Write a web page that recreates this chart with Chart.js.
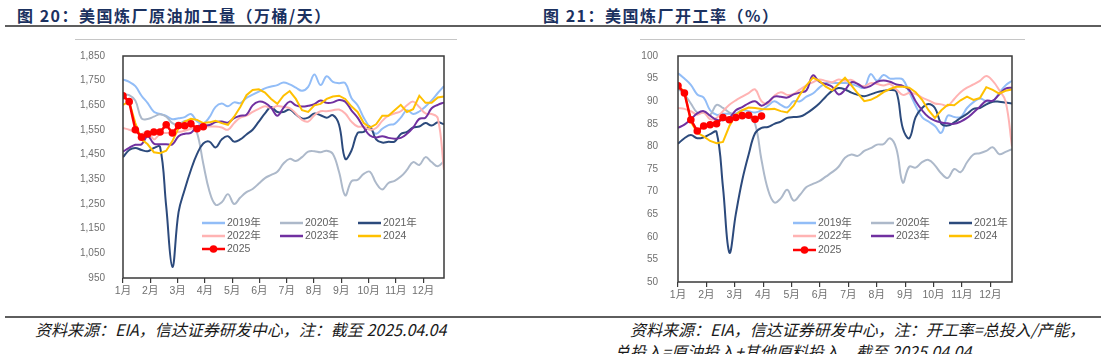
<!DOCTYPE html>
<html lang="zh">
<head>
    <meta charset="UTF-8">
    <title>美国炼厂原油加工量 / 开工率</title>
    <script src="https://cdn.jsdelivr.net/npm/chart.js"></script>
    <style>
        body {
            margin: 0;
            padding: 0;
            background: #ffffff;
        }

        .page {
            position: relative;
            width: 1108px;
            height: 354px;
            overflow: hidden;
            font-family: "Liberation Sans", "Noto Sans CJK SC", sans-serif;
        }

        .title {
            position: absolute;
            top: 3px;
            font-family: "Noto Sans CJK SC", sans-serif;
            font-size: 16px;
            font-weight: bold;
            letter-spacing: 1.5px;
            color: #1b3160;
            white-space: nowrap;
        }

        .rule {
            position: absolute;
            left: 5px;
            width: 1096px;
            height: 2px;
            background: #5e5e5e;
        }

        .frame-top {
            position: absolute;
            top: 39px;
            height: 1px;
            background: #c6c6c6;
        }

        .note {
            position: absolute;
            font-family: "Noto Sans CJK SC", sans-serif;
            font-style: italic;
            font-size: 16px;
            color: #1a1a1a;
            white-space: nowrap;
        }

        canvas {
            position: absolute;
        }
    </style>
</head>
<body>
<div class="page">
    <div class="title" style="left:17px;">图 20：美国炼厂原油加工量（万桶/天）</div>
    <div class="title" style="left:543px;">图 21：美国炼厂开工率（%）</div>
    <div class="rule" style="top:25px;"></div>

    <div class="frame-top" style="left:75px; width:382px;"></div>
    <div class="frame-top" style="left:640px; width:385px;"></div>

    <canvas id="runsChart" width="380" height="265" style="left:70px; top:40px;"></canvas>
    <canvas id="utilChart" width="390" height="270" style="left:630px; top:38px;"></canvas>

    <div class="rule" style="top:316px;"></div>
    <div class="note" style="left:35px; top:317px;">资料来源：EIA，信达证券研发中心，注：截至 2025.04.04</div>
    <div class="note" style="left:630px; top:317px;">资料来源：EIA，信达证券研发中心，注：开工率=总投入/产能，</div>
    <div class="note" style="left:614px; top:339px;">总投入=原油投入+其他原料投入，截至 2025.04.04</div>
</div>

<script>
    // month labels on the x axis (weekly data, week 0..52)
    const months = ['1月', '2月', '3月', '4月', '5月', '6月', '7月', '8月', '9月', '10月', '11月', '12月'];
    const years = ['2019年', '2020年', '2021年', '2022年', '2023年', '2024', '2025'];

    // 美国炼厂原油加工量 (万桶/天), weekly
    const runs2019 = [1755, 1745, 1728, 1689, 1659, 1624, 1615, 1607, 1594, 1598, 1602, 1615, 1585, 1576, 1602, 1644, 1657, 1646, 1662, 1659, 1680, 1693, 1706, 1719, 1726, 1732, 1743, 1735, 1722, 1709, 1725, 1775, 1732, 1768, 1745, 1740, 1740, 1680, 1650, 1600, 1560, 1535, 1555, 1570, 1575, 1600, 1630, 1615, 1625, 1645, 1670, 1700, 1728];
    const runs2020 = [1695, 1691, 1669, 1597, 1595, 1604, 1614, 1604, 1578, 1571, 1587, 1578, 1538, 1414, 1302, 1247, 1257, 1290, 1250, 1276, 1298, 1311, 1333, 1355, 1368, 1381, 1414, 1433, 1424, 1440, 1462, 1464, 1460, 1466, 1453, 1380, 1285, 1342, 1348, 1372, 1381, 1335, 1309, 1335, 1344, 1361, 1388, 1420, 1408, 1440, 1420, 1403, 1424];
    const runs2021 = [1440, 1469, 1477, 1469, 1464, 1477, 1482, 1240, 995, 1217, 1309, 1388, 1453, 1495, 1503, 1479, 1512, 1525, 1503, 1512, 1532, 1551, 1584, 1617, 1643, 1623, 1623, 1633, 1613, 1597, 1600, 1617, 1610, 1600, 1610, 1571, 1433, 1466, 1538, 1542, 1564, 1512, 1499, 1502, 1503, 1534, 1542, 1560, 1564, 1578, 1568, 1581, 1573];
    const runs2022 = [1558, 1551, 1542, 1534, 1545, 1512, 1534, 1538, 1540, 1542, 1547, 1555, 1560, 1564, 1564, 1564, 1560, 1551, 1578, 1600, 1608, 1623, 1636, 1646, 1639, 1647, 1643, 1639, 1617, 1591, 1584, 1610, 1626, 1626, 1630, 1633, 1617, 1584, 1564, 1564, 1551, 1558, 1587, 1608, 1617, 1626, 1650, 1665, 1643, 1617, 1615, 1598, 1388];
    const runs2023 = [1462, 1478, 1490, 1492, 1525, 1495, 1492, 1492, 1492, 1525, 1535, 1538, 1565, 1568, 1570, 1582, 1584, 1580, 1598, 1608, 1612, 1650, 1665, 1660, 1640, 1608, 1640, 1665, 1650, 1645, 1648, 1655, 1670, 1660, 1662, 1672, 1665, 1630, 1600, 1560, 1528, 1520, 1525, 1518, 1515, 1518, 1535, 1560, 1595, 1600, 1638, 1652, 1662];
    const runs2024 = [1652, 1665, 1578, 1512, 1492, 1460, 1456, 1466, 1505, 1558, 1584, 1595, 1591, 1578, 1581, 1587, 1578, 1571, 1604, 1643, 1691, 1712, 1715, 1702, 1676, 1656, 1689, 1708, 1676, 1630, 1623, 1650, 1656, 1676, 1686, 1689, 1676, 1646, 1623, 1578, 1560, 1573, 1608, 1608, 1630, 1652, 1623, 1634, 1689, 1660, 1660, 1682, 1686];
    const runs2025 = [1689, 1665, 1551, 1521, 1534, 1542, 1542, 1571, 1538, 1568, 1567, 1575, 1555, 1563];

    // 美国炼厂开工率 (%), weekly
    const util2019 = [96.2, 95.0, 93.6, 91.5, 90.8, 88.0, 87.0, 87.2, 87.2, 87.3, 88.0, 87.8, 87.5, 88.0, 89.0, 90.0, 89.2, 88.6, 90.0, 90.0, 91.0, 91.7, 93.0, 94.0, 94.1, 94.0, 94.0, 93.8, 93.3, 93.0, 96.0, 94.5, 95.8, 95.0, 95.0, 94.8, 92.0, 89.0, 86.5, 85.5, 84.5, 83.0, 86.8, 86.5, 86.5, 88.5, 89.8, 90.6, 90.0, 90.0, 91.8, 93.5, 94.5];
    const util2020 = [92.8, 91.5, 89.5, 87.5, 87.5, 87.0, 89.2, 88.5, 87.5, 86.8, 86.6, 86.5, 85.0, 77.0, 70.5, 67.6, 68.5, 70.4, 68.0, 69.3, 71.0, 71.7, 72.3, 73.3, 74.3, 75.5, 77.5, 78.2, 77.9, 79.0, 79.6, 80.4, 80.5, 81.8, 79.5, 72.0, 75.5, 75.3, 76.5, 77.0, 75.8, 74.0, 73.0, 75.0, 74.3, 76.5, 78.2, 78.5, 79.0, 79.8, 78.3, 78.8, 79.4];
    const util2021 = [80.6, 81.8, 82.5, 81.8, 82.0, 82.7, 83.2, 71.0, 56.5, 65.0, 72.5, 78.2, 82.9, 84.1, 84.3, 85.0, 85.5, 86.3, 86.5, 86.6, 87.3, 88.3, 89.5, 91.0, 92.3, 92.9, 92.6, 91.9, 91.4, 91.1, 91.5, 92.0, 92.3, 92.5, 92.1, 84.0, 81.8, 86.5, 88.5, 89.4, 88.5, 85.0, 84.6, 85.3, 86.3, 87.2, 88.3, 88.5, 89.3, 89.9, 89.9, 89.7, 89.5];
    const util2022 = [88.5, 88.3, 87.8, 87.0, 87.5, 86.0, 86.3, 87.8, 89.2, 90.2, 91.0, 91.8, 92.6, 90.0, 89.5, 91.2, 92.0, 91.4, 91.6, 92.6, 93.5, 94.2, 94.8, 94.5, 94.2, 94.8, 94.5, 94.7, 93.8, 93.3, 94.0, 93.8, 93.5, 93.8, 92.6, 91.4, 91.8, 91.6, 90.8, 90.2, 89.5, 89.3, 89.0, 90.5, 92.0, 93.0, 93.7, 94.5, 95.6, 94.5, 92.5, 90.0, 80.0];
    const util2023 = [84.1, 84.8, 86.0, 87.3, 87.8, 86.8, 85.9, 85.8, 86.3, 88.0, 88.7, 89.5, 90.0, 89.0, 89.8, 91.0, 91.0, 90.8, 91.5, 91.9, 92.4, 95.7, 94.3, 93.8, 93.2, 91.5, 92.5, 94.2, 93.8, 93.0, 93.4, 94.3, 94.6, 94.3, 93.7, 93.4, 92.5, 90.0, 88.0, 86.5, 85.7, 85.3, 85.1, 85.0, 85.5, 86.3, 87.5, 88.8, 90.1, 90.1, 91.5, 92.8, 93.0];
    const util2024 = [93.1, 92.3, 85.5, 83.0, 82.2, 81.2, 80.7, 81.0, 84.5, 87.0, 88.0, 88.6, 88.5, 88.3, 88.2, 88.3, 87.8, 87.5, 89.0, 91.5, 93.5, 95.2, 94.5, 93.2, 92.4, 93.8, 95.2, 93.5, 91.7, 90.0, 90.3, 91.0, 92.0, 92.7, 93.2, 93.2, 93.0, 92.0, 90.3, 88.0, 86.3, 88.0, 89.2, 89.1, 90.2, 91.0, 90.3, 90.7, 93.1, 92.5, 91.7, 92.3, 92.6];
    const util2025 = [93.4, 91.8, 85.9, 83.4, 84.5, 84.8, 85.0, 86.4, 85.9, 86.4, 86.8, 86.9, 86.0, 86.7];

    const colors = ['#92bdf7', '#adb9ca', '#2c4a7c', '#ffb3b3', '#7030a0', '#ffc000', '#ff0000'];
    const smooth = [0.4, 0.4, 0.4, 0.4, 0.4, 0, 0];
    const MONTH_STEP = 4.42; // weeks between month ticks

    const tickColor = '#6f6f6f';
    const fontFamily = '"Liberation Sans", "Noto Sans CJK SC", sans-serif';

    // outline round the plot area
    const plotFrame = {
        id: 'plotFrame',
        afterDatasetsDraw(chart) {
            const { ctx, chartArea: a } = chart;
            ctx.save();
            ctx.strokeStyle = '#3a3a3a';
            ctx.lineWidth = 1.5;
            ctx.strokeRect(a.left, a.top, a.right - a.left, a.bottom - a.top);
            ctx.restore();
        }
    };

    // three-column legend sitting inside the plot
    const innerLegend = {
        id: 'innerLegend',
        afterDraw(chart, args, opts) {
            const ctx = chart.ctx;
            ctx.save();
            ctx.font = '10.5px ' + fontFamily;
            ctx.textBaseline = 'middle';
            ctx.textAlign = 'left';
            chart.data.datasets.forEach((ds, i) => {
                const x = opts.x[i % 3];
                const y = opts.y[Math.floor(i / 3)];
                ctx.strokeStyle = ds.borderColor;
                ctx.lineWidth = 2.5;
                ctx.beginPath();
                ctx.moveTo(x, y);
                ctx.lineTo(x + 23, y);
                ctx.stroke();
                if (ds.pointRadius > 0) {
                    ctx.fillStyle = ds.borderColor;
                    ctx.beginPath();
                    ctx.arc(x + 11.5, y, 3.8, 0, Math.PI * 2);
                    ctx.fill();
                }
                ctx.fillStyle = '#5f5f5f';
                ctx.fillText(ds.label, x + 25, y + 0.5);
            });
            ctx.restore();
        }
    };

    function buildDatasets(seriesList) {
        return seriesList.map((values, i) => ({
            label: years[i],
            data: values.map((v, w) => ({ x: w, y: v })),
            borderColor: colors[i],
            backgroundColor: colors[i],
            borderWidth: i === 6 ? 2.5 : 2,
            tension: smooth[i],
            pointRadius: i === 6 ? 3.8 : 0,
            pointBorderWidth: 0,
            order: 7 - i
        }));
    }

    function makeChart(id, seriesList, yMin, yMax, yStep, layout) {
        const ctx = document.getElementById(id).getContext('2d');
        return new Chart(ctx, {
            type: 'line',
            data: { datasets: buildDatasets(seriesList) },
            options: {
                responsive: false,
                animation: false,
                devicePixelRatio: 1,
                layout: { padding: { left: 0, right: layout.padRight, top: layout.padTop, bottom: 0 } },
                plugins: {
                    legend: { display: false },
                    tooltip: { enabled: false },
                    innerLegend: { x: layout.legendX, y: layout.legendY }
                },
                scales: {
                    x: {
                        type: 'linear',
                        min: 0,
                        max: 52,
                        afterBuildTicks: scale => {
                            scale.ticks = months.map((m, i) => ({ value: i * MONTH_STEP }));
                        },
                        afterFit: scale => { scale.height = layout.xHeight; },
                        ticks: {
                            autoSkip: false,
                            maxRotation: 0,
                            padding: 2,
                            color: tickColor,
                            font: { size: 10.5, family: fontFamily },
                            callback: (v, i) => months[i]
                        },
                        grid: {
                            drawOnChartArea: false,
                            tickLength: 5,
                            color: '#3a3a3a',
                            lineWidth: 1.2
                        },
                        border: { display: false }
                    },
                    y: {
                        min: yMin,
                        max: yMax,
                        afterFit: scale => { scale.width = layout.yWidth; },
                        ticks: {
                            stepSize: yStep,
                            padding: layout.yPad,
                            color: tickColor,
                            font: { size: 10, family: fontFamily },
                            callback: v => v.toLocaleString('en-US')
                        },
                        grid: { display: false },
                        border: { display: false }
                    }
                }
            },
            plugins: [plotFrame, innerLegend]
        });
    }

    makeChart('runsChart',
        [runs2019, runs2020, runs2021, runs2022, runs2023, runs2024, runs2025],
        950, 1850, 100,
        { padTop: 9, padRight: 6, xHeight: 27, yWidth: 53, yPad: 10,
          legendX: [132, 210, 288], legendY: [183, 196, 209] });

    makeChart('utilChart',
        [util2019, util2020, util2021, util2022, util2023, util2024, util2025],
        50, 100, 5,
        { padTop: 6, padRight: 8, xHeight: 26, yWidth: 48, yPad: 12,
          legendX: [163, 241, 319], legendY: [185, 198, 212] });
</script>
</body>
</html>
